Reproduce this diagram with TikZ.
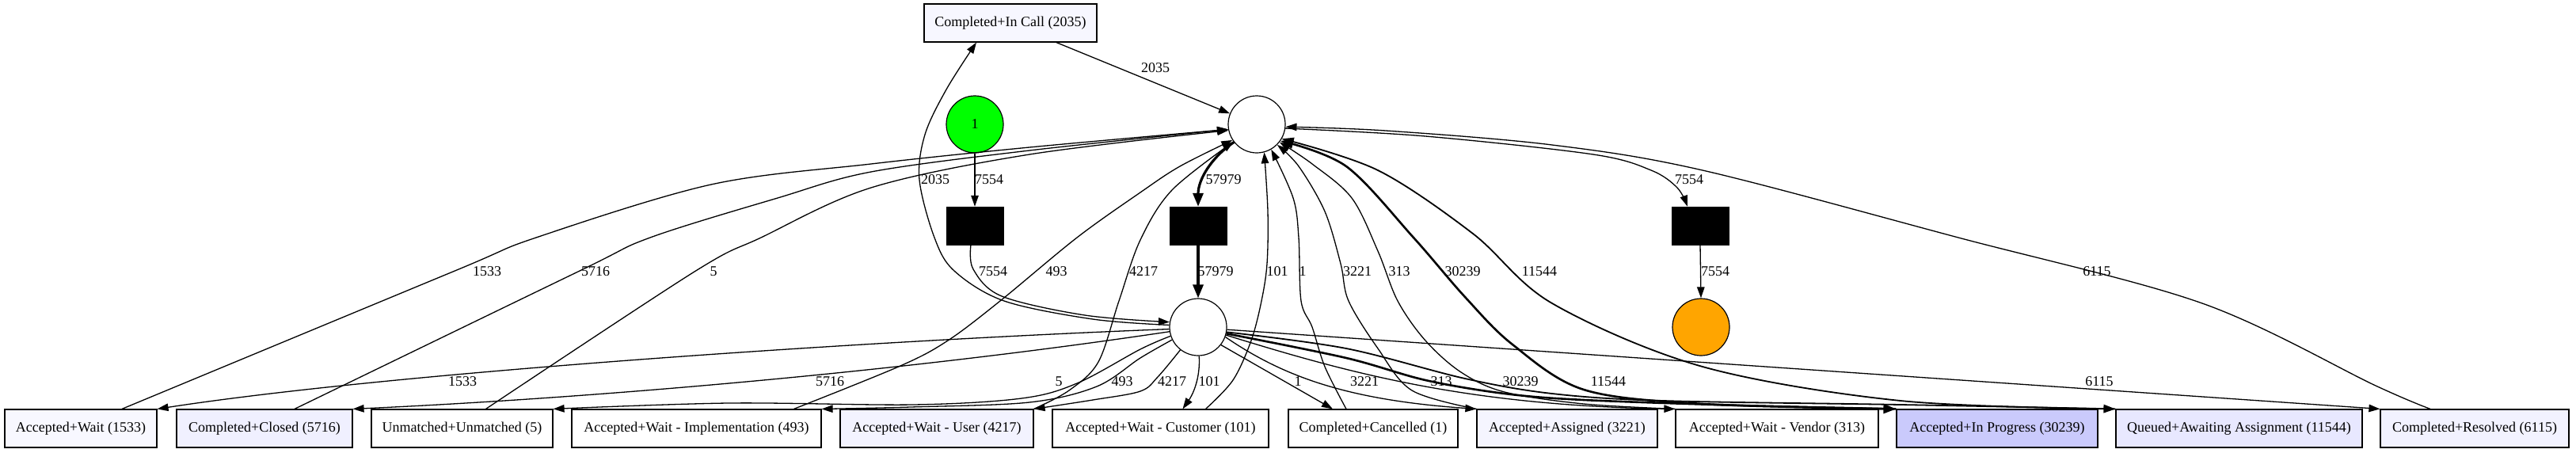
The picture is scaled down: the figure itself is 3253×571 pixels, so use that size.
\documentclass[tikz,border=0pt]{standalone}
\usepackage{fontspec}
\setmainfont{Liberation Serif}
\usetikzlibrary{arrows.meta}
\definecolor{fIncall}{HTML}{F7F7FF}
\definecolor{fBa}{HTML}{F8F8FF}
\definecolor{fBb}{HTML}{F0F0FF}
\definecolor{fBe}{HTML}{F3F3FF}
\definecolor{fBh}{HTML}{F5F5FF}
\definecolor{fBj}{HTML}{CACAFC}
\definecolor{fBk}{HTML}{E8E8FF}
\definecolor{fBl}{HTML}{F2F2FF}
\definecolor{srcgreen}{HTML}{00FF00}
\definecolor{sinkorange}{HTML}{FFA500}
\begin{document}
\begin{tikzpicture}[x=1pt,y=-1pt,
  font=\fontsize{18pt}{20pt}\selectfont,
  box/.style={draw, line width=1.2pt, rectangle, minimum height=48pt, inner sep=0pt},
  place/.style={draw, circle, minimum size=72pt, inner sep=0pt, line width=1.2pt},
  trans/.style={draw, fill=black, rectangle, minimum width=72pt, minimum height=48pt, inner sep=0pt},
  lbl/.style={inner sep=0pt},
  conn/.style={line width=1.3pt, -{Triangle[length=14pt,width=9.5pt]}},
  conm/.style={line width=1.8pt, -{Triangle[length=15pt,width=10.5pt]}},
  conk/.style={line width=2.6pt, -{Triangle[length=16pt,width=12pt]}},
  conx/.style={line width=3.2pt, -{Triangle[length=17pt,width=13pt]}},
  sm/.style={smooth, tension=0.55}
]
\useasboundingbox (0,0) rectangle (3253,571);

% places and transitions
\node[box, fill=fIncall, minimum width=218pt] (incall) at (1276,29) {Completed+In Call (2035)};
\node[place] (P1) at (1587,157) {};
\node[place, fill=srcgreen] (src) at (1231,157) {1};
\node[trans] (T1) at (1231,285) {};
\node[trans] (T2) at (1513,285) {};
\node[trans] (T3) at (2147,285) {};
\node[place] (P2) at (1513,413) {};
\node[place, fill=sinkorange] (sink) at (2148,413) {};

% activity boxes
\node[box, fill=fBa, minimum width=192pt] (b1) at (102,541) {Accepted+Wait (1533)};
\node[box, fill=fBb, minimum width=222pt] (b2) at (334,541) {Completed+Closed (5716)};
\node[box, fill=white, minimum width=229pt] (b3) at (583.5,541) {Unmatched+Unmatched (5)};
\node[box, fill=white, minimum width=315pt] (b4) at (879.5,541) {Accepted+Wait - Implementation (493)};
\node[box, fill=fBe, minimum width=244pt] (b5) at (1183,541) {Accepted+Wait - User (4217)};
\node[box, fill=white, minimum width=273pt] (b6) at (1465.5,541) {Accepted+Wait - Customer (101)};
\node[box, fill=white, minimum width=214pt] (b7) at (1734,541) {Completed+Cancelled (1)};
\node[box, fill=fBh, minimum width=228pt] (b8) at (1979,541) {Accepted+Assigned (3221)};
\node[box, fill=white, minimum width=256pt] (b9) at (2244,541) {Accepted+Wait - Vendor (313)};
\node[box, fill=fBj, minimum width=254pt] (b10) at (2522,541) {Accepted+In Progress (30239)};
\node[box, fill=fBk, minimum width=311pt] (b11) at (2827.5,541) {Queued+Awaiting Assignment (11544)};
\node[box, fill=fBl, minimum width=238pt] (b12) at (3125,541) {Completed+Resolved (6115)};

% straight connectors
\draw[conn] (src.south) -- (T1.north);
\draw[conx] (T2.south) -- (P2.north);
\draw[conn] (T3.south) -- (sink.north);
\draw[conn] ([xshift=58pt]incall.south) -- (P1.158);
\draw[conn] (P2.322) -- ([xshift=-51pt]b7.north);
\draw[conn] (P2.355) -- (b12.north west);

% tau and 2035 connectors
\draw[conn] plot[sm] coordinates {([xshift=-5pt]T1.south) (1229,340) (1265,374) (1370,398) (P2.170)};
\draw[conn] plot[sm] coordinates {(P2.176) (1380,403) (1268,380) (1205,342) (1180,300) (1161,227) (1168,170) (1195,113) ([xshift=-43pt]incall.south)};
\draw[conx] (P1.218) .. controls (1528,200) and (1513,228) .. (T2.north);
\draw[conn] plot[sm] coordinates {(P1.352) (1800,172) (2012,195) (2085,215) (2118,237) ([xshift=-16pt]T3.north)};

% P2 to activities, left
\draw[conn] (P2.184) .. controls (1100,430) and (500,470) .. (b1.north east);
\draw[conn] (P2.189) .. controls (1100,475) and (700,505) .. (b2.north east);
\draw[conn] plot[sm] coordinates {(P2.198) (1440,441) (1360,484) (1290,503) (1153,511) (920,509) (b3.north east)};
\draw[conn] plot[sm] coordinates {(P2.206) (1440,452) (1385,488) (1300,508) (1150,514) (b4.north east)};
\draw[conn] plot[sm] coordinates {(P2.232) (1462,476) (1440,494) (1380,505) (b5.north east)};
\draw[conn] (P2.272) .. controls (1516,480) and (1505,500) .. ([xshift=28pt]b6.north);

% P2 to activities, right
\draw[conn] (P2.340) .. controls (1620,475) and (1700,505) .. (b8.north west);
\draw[conn] (P2.344) .. controls (1700,470) and (1850,512) .. (b9.north west);
\draw[conk] plot[sm] coordinates {(P2.347) (1700,452) (1800,480) (1900,497) (2000,505) (2200,512) (b10.north west)};
\draw[conm] plot[sm] coordinates {(P2.350) (1700,440) (1850,478) (1960,497) (2100,506) (2400,511) (b11.north west)};

% activities to P1
\draw[conn] plot[sm] coordinates {([xshift=52pt]b1.north) (572,343) (677,300) (898,233) (1100,207) (1300,186) (P1.190)};
\draw[conn] plot[sm] coordinates {([xshift=38pt]b2.north) (730,343) (821,300) (982,250) (1100,217) (1300,190) (P1.190)};
\draw[conn] plot[sm] coordinates {([xshift=30pt]b3.north) (877,343) (961,300) (1100,237) (1300,195) (P1.192)};
\draw[conn] plot[sm] coordinates {([xshift=123pt]b4.north) (1137,462) (1197,430) (1263,380) (1360,300) (1440,243) (1490,210) (P1.213)};
\draw[conn] plot[sm] coordinates {(b5.north east) (1350,493) (1387,457) (1413,380) (1440,303) (1480,240) (P1.217)};
\draw[conn] plot[sm] coordinates {([xshift=57pt]b6.north) (1557,480) (1580,430) (1593,380) (1600,333) (1601,267) (P1.285)};
\draw[conn] plot[sm] coordinates {([xshift=-34pt]b7.north) (1673,463) (1657,413) (1643,380) (1640,300) (1633,250) (P1.300)};
\draw[conn] plot[sm] coordinates {(b8.north west) (1783,493) (1740,440) (1703,380) (1693,333) (1673,267) (1640,210) (P1.315)};
\draw[conn] plot[sm] coordinates {(b9.north west) (2000,510) (1900,495) (1845,470) (1800,430) (1765,380) (1740,317) (1707,250) (1657,207) (P1.322)};
\draw[conk] plot[sm] coordinates {(b10.north west) (2150,510) (2000,492) (1910,435) (1850,375) (1785,300) (1700,210) (P1.325)};
\draw[conm] plot[sm] coordinates {(b11.north west) (2400,506) (2150,463) (1960,383) (1860,295) (1740,215) (P1.330)};
\draw[conn] plot[sm] coordinates {([xshift=-56pt]b12.north) (3000,487) (2781,383) (2473,300) (2150,215) (1960,183) (1750,165) (P1.355)};

% labels
\foreach \t/\x/\y/\n in {
  2035/1459/86/lA, 2035/1181/227/lB, 7554/1249/227/lC, 57979/1545/227/lD, 7554/2133/227/lE,
  1533/615/343/lF, 5716/752/343/lG, 5/901/343/lH, 7554/1254/343/lI, 493/1334/343/lJ,
  4217/1444/343/lK, 57979/1535/343/lL, 101/1613/343/lM, 1/1645/343/lN, 3221/1714/343/lO,
  313/1767/343/lP, 30239/1847/343/lQ, 11544/1944/343/lR, 7554/2166/343/lS, 6115/2648/343/lT,
  1533/584/482/lU, 5716/1048/482/lV, 5/1337/482/lW, 493/1417/482/lX, 4217/1480/482/lY,
  101/1527/482/lZ, 1/1639/482/lAa, 3221/1723/482/lAb, 313/1820/482/lAc, 30239/1920/482/lAd,
  11544/2031/482/lAe, 6115/2651/482/lAf}
  {\node[lbl] (\n) at (\x,\y) {\t};}
\end{tikzpicture}
\end{document}
